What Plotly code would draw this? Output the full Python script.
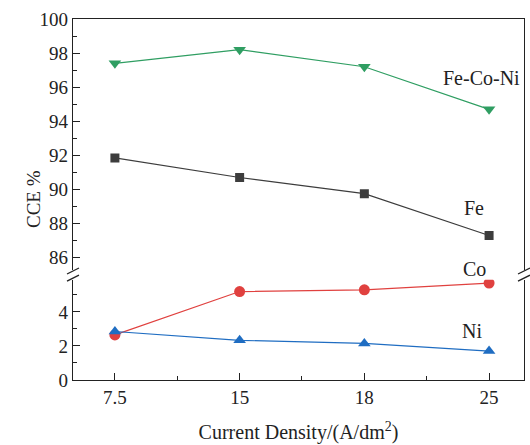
import plotly.graph_objects as go

categories = ["7.5", "15", "18", "25"]
fe_co_ni = [97.4, 98.2, 97.2, 94.7]
fe = [91.85, 90.7, 89.75, 87.3]
co = [2.65, 5.2, 5.3, 5.7]
ni = [2.85, 2.33, 2.15, 1.7]

xpos = list(range(len(categories)))

FONT = "Liberation Serif, Times New Roman, serif"
GREEN = "#2f9e62"
GRAY = "#3d3d3d"
RED = "#e0413f"
BLUE = "#1f6dc2"

fig = go.Figure()

fig.add_trace(go.Scatter(x=xpos, y=co, mode="lines+markers", xaxis="x", yaxis="y",
                         line=dict(color=RED, width=1.2),
                         marker=dict(symbol="circle", size=11, color=RED)))
fig.add_trace(go.Scatter(x=xpos, y=ni, mode="lines+markers", xaxis="x", yaxis="y",
                         line=dict(color=BLUE, width=1.2),
                         marker=dict(symbol="triangle-up", size=11, color=BLUE)))
fig.add_trace(go.Scatter(x=xpos, y=fe, mode="lines+markers", xaxis="x2", yaxis="y2",
                         line=dict(color=GRAY, width=1.2),
                         marker=dict(symbol="square", size=9, color=GRAY)))
fig.add_trace(go.Scatter(x=xpos, y=fe_co_ni, mode="lines+markers", xaxis="x2", yaxis="y2",
                         line=dict(color=GREEN, width=1.2),
                         marker=dict(symbol="triangle-down", size=11, color=GREEN)))

d1 = 0.278
d2 = 0.306
xr = [-0.336, 3.28]

ycommon = dict(showline=True, linecolor="#222", linewidth=1.3, mirror=True,
               showgrid=False, zeroline=False,
               tickfont=dict(family=FONT, size=19, color="#222"))

fig.update_layout(
    width=530, height=445,
    margin=dict(l=73, r=5, t=19, b=63),
    paper_bgcolor="white", plot_bgcolor="white",
    showlegend=False,
    font=dict(family=FONT, color="#222"),
    xaxis=dict(showline=True, linecolor="#222", linewidth=1.3, mirror=False,
               showgrid=False, zeroline=False,
               tickfont=dict(family=FONT, size=19, color="#222"),
               range=xr, anchor="y", domain=[0, 1],
               tickmode="array", tickvals=xpos, ticktext=categories,
               ticks="inside", ticklen=7, tickwidth=1.3, tickcolor="#222",
               minor=dict(ticks="inside", ticklen=4, tickmode="array",
                          tickvals=[0.5, 1.5, 2.5], tickcolor="#222", tickwidth=1.2),
               title=dict(text="Current Density/(A/dm<sup>2</sup>)",
                          font=dict(family=FONT, size=20, color="#222"), standoff=18)),
    xaxis2=dict(range=xr, anchor="y2", domain=[0, 1], side="top",
                showline=True, linecolor="#222", linewidth=1.3, mirror=False,
                showticklabels=False, ticks="", showgrid=False, zeroline=False),
    yaxis=dict(**ycommon, range=[0, 5.9], domain=[0, d1], anchor="x",
               tickmode="linear", tick0=0, dtick=2,
               ticks="inside", ticklen=7, tickwidth=1.3, tickcolor="#222",
               minor=dict(ticks="inside", ticklen=4, dtick=1, tick0=0,
                          tickcolor="#222", tickwidth=1.2)),
    yaxis2=dict(**ycommon, range=[85.3, 100], domain=[d2, 1], anchor="x2",
                tickmode="linear", tick0=86, dtick=2,
                ticks="inside", ticklen=7, tickwidth=1.3, tickcolor="#222",
                minor=dict(ticks="inside", ticklen=4, dtick=1, tick0=86,
                           tickcolor="#222", tickwidth=1.2)),
)

# series labels
labels = [
    ("Fe-Co-Ni", 2.94, 96.55, "y2"),
    ("Fe", 2.88, 88.9, "y2"),
    ("Co", 2.88, 85.35, "y2"),
    ("Ni", 2.86, 2.86, "y"),
]
for text, lx, ly, yref in labels:
    fig.add_annotation(x=lx, y=ly, xref="x", yref=yref, text=text, showarrow=False,
                       font=dict(family=FONT, size=20, color="#222"))

# y-axis title
fig.add_annotation(x=0, y=0.5, xref="paper", yref="paper", xshift=-52, text="CCE %",
                   textangle=-90, showarrow=False,
                   font=dict(family=FONT, size=19, color="#222"))

# axis break marks
pw = 452.0
ph = 363.0
dx = 6 / pw
dy = 3 / ph
for xc in (0.0, 1.0):
    for yc in (d1 + 1.5 / ph, d2 - 1.5 / ph):
        fig.add_shape(type="line", xref="paper", yref="paper",
                      x0=xc - dx, x1=xc + dx, y0=yc - dy, y1=yc + dy,
                      line=dict(color="#222", width=1.3))

fig.write_html("out.html")
